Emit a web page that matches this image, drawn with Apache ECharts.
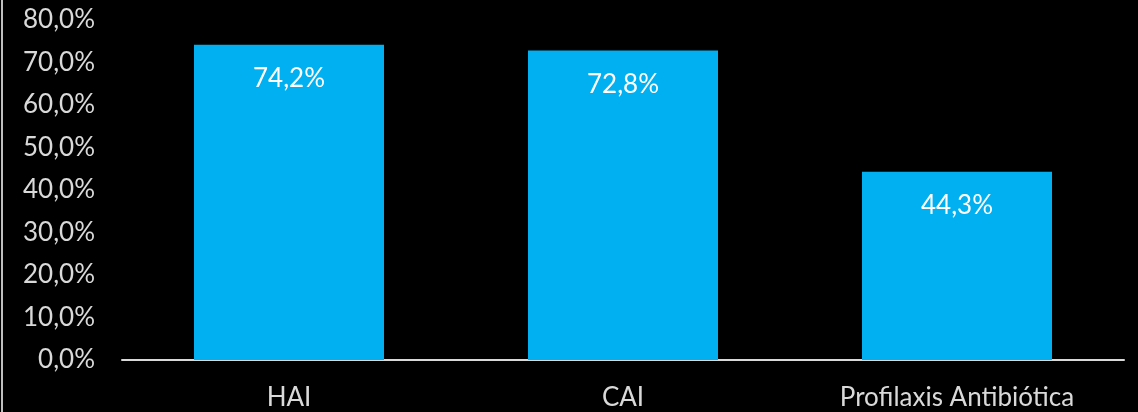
<!DOCTYPE html>
<html>
<head>
<meta charset="utf-8">
<script src="https://cdn.jsdelivr.net/npm/echarts@6/dist/echarts.min.js"></script>
<style>
  html, body { margin: 0; padding: 0; background: #000; }
  #chart { width: 1138px; height: 412px; }
</style>
</head>
<body>
<div id="chart"></div>
<script>
// Share of compliance per indicator (%)
const categories = ['HAI', 'CAI', 'Profilaxis Antibiótica'];
const values = [74.2, 72.8, 44.3];
const yTicks = { min: 0, max: 80, interval: 10 };

const fmt = v => v.toFixed(1).replace('.', ',') + '%';
const font = 'Lato, "Open Sans", sans-serif';

const chart = echarts.init(document.getElementById('chart'));
chart.setOption({
  backgroundColor: '#000',
  animation: false,
  graphic: [{
    type: 'rect',
    shape: { x: 1, y: 0, width: 2, height: 412 },
    style: { fill: '#bfbfbf' }
  }],
  grid: { left: 122, right: 14, top: 20, bottom: 52 },
  xAxis: {
    type: 'category',
    data: categories,
    axisLine: { lineStyle: { color: '#d9d9d9', width: 2 } },
    axisTick: { show: false },
    axisLabel: { color: '#d9d9d9', fontSize: 26, fontFamily: font, margin: 25 }
  },
  yAxis: {
    type: 'value',
    min: yTicks.min, max: yTicks.max, interval: yTicks.interval,
    splitLine: { show: false },
    axisLine: { show: false },
    axisTick: { show: false },
    axisLabel: { color: '#d9d9d9', fontSize: 26, fontFamily: font, margin: 27, formatter: fmt }
  },
  series: [{
    type: 'bar',
    data: values,
    barWidth: 190,
    itemStyle: { color: '#00b0f0' },
    label: {
      show: true,
      position: 'insideTop',
      distance: 21,
      color: '#ffffff',
      fontSize: 26,
      fontFamily: font,
      formatter: p => fmt(p.value)
    }
  }]
});
</script>
</body>
</html>
